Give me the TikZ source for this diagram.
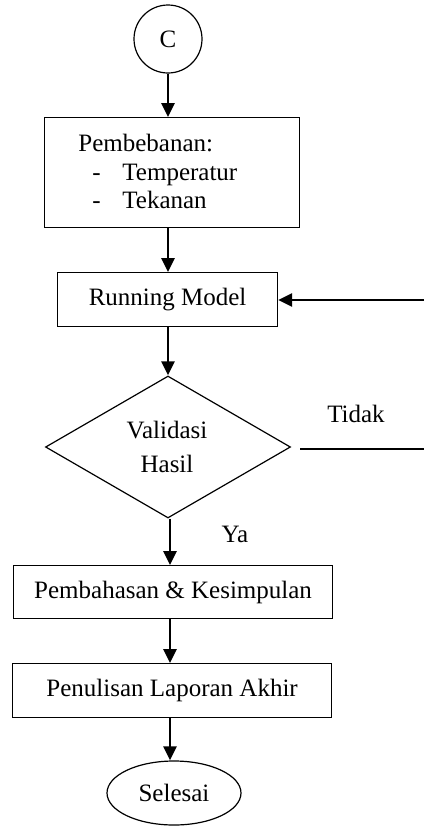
\documentclass[tikz,border=0pt]{standalone}
\usepackage{fontspec}
\setmainfont{Liberation Serif}
\usetikzlibrary{shapes.geometric,arrows.meta}
\begin{document}
\begin{tikzpicture}[x=0.5pt,y=-0.5pt,
  txt/.style={font=\fontsize{12.5}{15}\selectfont, inner sep=0},
  box/.style={draw, line width=0.6pt, inner sep=0, anchor=north west, font=\fontsize{12.5}{15}\selectfont},
  arr/.style={line width=1.3pt, -{Triangle[length=7pt,width=6.5pt]}},
  thin line/.style={line width=0.6pt}]
\useasboundingbox (0,0) rectangle (424,826);
% start connector
\node[draw, circle, line width=0.6pt, minimum size=34pt, inner sep=0, font=\fontsize{12.5}{15}\selectfont] (c) at (168,39) {C};
% boxes
\node[box, minimum width=127.5pt, minimum height=55pt] (b1) at (44,117) {};
\node[txt, anchor=base west] (p0) at (78,151) {Pembebanan:};
\node[txt, anchor=base west] (d1) at (92,180) {-};
\node[txt, anchor=base west] (p1) at (122,180) {Temperatur};
\node[txt, anchor=base west] (d2) at (92,208) {-};
\node[txt, anchor=base west] (p2) at (122,208) {Tekanan};
\node[box, minimum width=110pt, minimum height=27pt] (b2) at (57,272) {Running Model};
\node[draw, diamond, line width=0.6pt, minimum width=122.5pt, minimum height=71pt, inner sep=0] (dia) at (168,447) {};
\node[txt, anchor=base] (v1) at (167,438) {Validasi};
\node[txt, anchor=base] (v2) at (167,472) {Hasil};
\node[box, minimum width=159.5pt, minimum height=26.5pt] (b3) at (13,565) {Pembahasan \& Kesimpulan};
\node[box, minimum width=159.5pt, minimum height=27pt] (b4) at (12,663) {Penulisan Laporan Akhir};
\node[draw, ellipse, line width=0.6pt, minimum width=67pt, minimum height=32pt, inner sep=0, font=\fontsize{12.5}{15}\selectfont] (el) at (174,793) {Selesai};
% labels
\node[txt, anchor=base] (ya) at (235,542) {Ya};
\node[txt, anchor=base] (td) at (356,422) {Tidak};
% connectors
\draw[arr] (c.south) -- (c.south |- b1.north);
\draw[arr] (c.south |- b1.south) -- (c.south |- b2.north);
\draw[arr] (c.south |- b2.south) -- (dia.north);
\coordinate (lx) at (170,0);
\draw[arr] (lx |- dia.south) -- (lx |- b3.north);
\draw[arr] (lx |- b3.south) -- (lx |- b4.north);
\draw[arr] (lx |- b4.south) -- (lx |- el.north);
\coordinate (r1) at (424,300);
\draw[arr] (r1) -- (r1 -| b2.east);
\coordinate (t0) at (300,449);
\coordinate (t1) at (424,449);
\draw[thin line] (t0) -- (t1);
\end{tikzpicture}
\end{document}
